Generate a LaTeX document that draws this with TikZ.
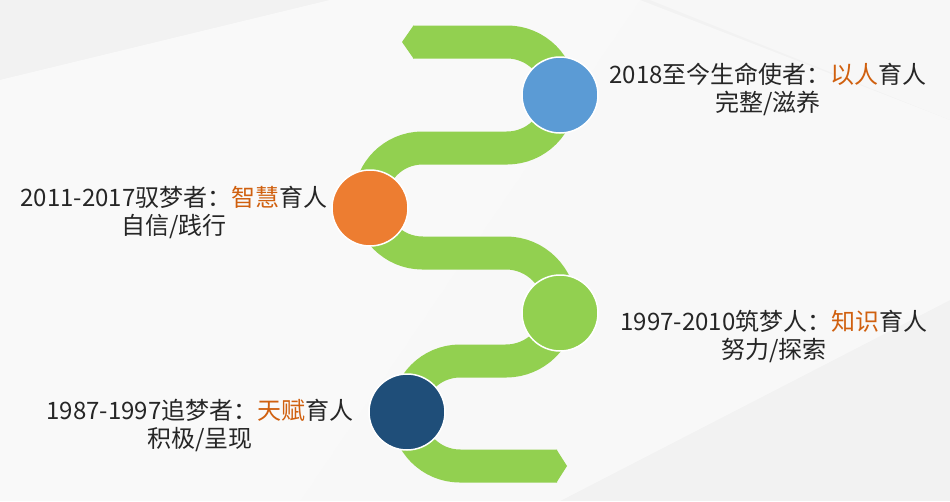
\documentclass[tikz,border=0pt]{standalone}
\usepackage{fontspec}
\setmainfont{Noto Sans CJK SC}
\definecolor{band}{HTML}{92D050}
\definecolor{dotblue}{HTML}{5B9BD5}
\definecolor{dotorange}{HTML}{ED7D31}
\definecolor{dotnavy}{HTML}{1F4E79}
\definecolor{hl}{HTML}{D0600F}
\tikzset{
    dot/.style={circle, draw=white, line width=1.5pt, minimum size=76pt, inner sep=0pt},
    stage/.style={align=center, font=\fontsize{24}{28}\selectfont, text=black!85},
}
\newcommand{\hl}[1]{\textcolor{hl}{#1}}
\begin{document}
\begin{tikzpicture}[x=1pt, y=-1pt]
    \useasboundingbox (0,0) rectangle (950,501);
    \fill[black!5] (0,0) rectangle (950,501);
    % faint facets in the background
    \fill[white, opacity=0.6] (0,80) -- (330,0) -- (640,0) -- (300,501) -- (0,501) -- cycle;
    \fill[white, opacity=0.5] (640,0) -- (950,120) -- (950,300) -- (560,501) -- (300,501) -- cycle;
    \fill[black!3] (650,0) -- (950,0) -- (950,120) -- cycle;
    % the winding band
    \draw[band, line width=33pt] (413,42) -- (507,42) arc (-90:90:53) -- (422.5,148)
        arc (270:90:52.5) -- (506,253) arc (-90:90:54) -- (460,361)
        arc (270:90:52.5) -- (557,466);
    \fill[band] (413.5,25.5) -- (402,42) -- (413.5,58.5) -- cycle;
    \fill[band] (556.5,449.5) -- (567,466) -- (556.5,482.5) -- cycle;
    % stages
    \node[dot, fill=dotblue] (s2018) at (560,95) {};
    \node[dot, fill=dotorange] (s2011) at (370,208) {};
    \node[dot, fill=band] (s1997) at (560,313) {};
    \node[dot, fill=dotnavy] (s1987) at (407,412) {};
    \node[stage] (t2018) at (768,89) {2018至今生命使者：\hl{以人}育人\\完整/滋养};
    \node[stage] (t2011) at (174,212) {2011-2017驭梦者：\hl{智慧}育人\\自信/践行};
    \node[stage] (t1997) at (774,336) {1997-2010筑梦人：\hl{知识}育人\\努力/探索};
    \node[stage] (t1987) at (200,425) {1987-1997追梦者：\hl{天赋}育人\\积极/呈现};
\end{tikzpicture}
\end{document}
